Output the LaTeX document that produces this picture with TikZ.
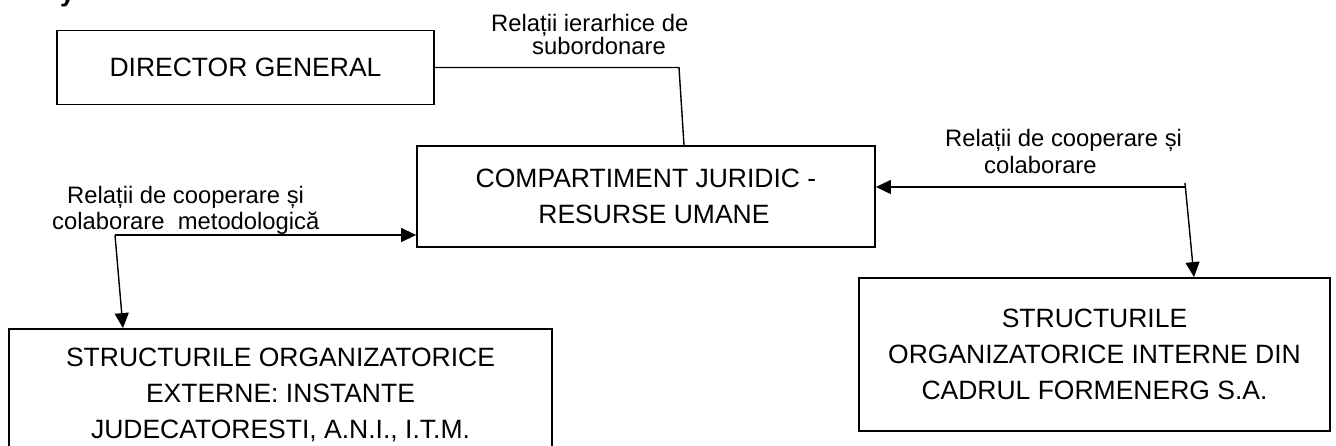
\documentclass[tikz,border=0pt]{standalone}
\usepackage{fontspec}
\setmainfont{Liberation Sans}
\usetikzlibrary{arrows.meta}
\begin{document}
\begin{tikzpicture}[x=1pt,y=-1pt,
  box/.style={draw, line width=1.8pt, rectangle, inner sep=0pt, align=center,
    font=\fontsize{26.5}{35.7}\selectfont},
  rel/.style={anchor=base west, inner sep=0pt, font=\fontsize{23.8}{27}\selectfont},
  link/.style={line width=1.4pt},
  arr/.style={link, -{Triangle[length=15pt,width=14pt]}}
]
\clip (0,0) rectangle (1336,446);

% tail of the heading line above
\node[anchor=base west, inner sep=0pt, font=\bfseries\fontsize{26.5}{30}\selectfont] (head) at (60,2) {y};

% boxes
\node[box, minimum width=377pt, minimum height=74pt] (dg) at (245.5,67.5) {DIRECTOR GENERAL};
\node[box, minimum width=458pt, minimum height=101pt] (cj) at (646,196.5)
  {COMPARTIMENT JURIDIC -\\\hspace*{16pt}RESURSE UMANE};
\node[box, minimum width=543pt, minimum height=132pt] (ext) at (280.5,395)
  {STRUCTURILE ORGANIZATORICE\\EXTERNE: INSTANTE\\JUDECATORESTI, A.N.I., I.T.M.};
\node[box, minimum width=471pt, minimum height=153pt] (int) at (1094.5,354.5)
  {STRUCTURILE\\ORGANIZATORICE INTERNE DIN\\CADRUL FORMENERG S.A.};

% subordination link
\coordinate (k1) at (679,67.5);
\coordinate (k2) at (684,0);
\draw[link] (dg.east) -- (k1) -- (cj.north -| k2);

% external cooperation
\coordinate (lj) at (115,235);
\coordinate (lx) at (123,0);
\draw[arr] (lj) -- (cj.west |- lj);
\draw[arr] (lj) -- (ext.north -| lx);

% internal cooperation
\coordinate (rj) at (1185,187);
\coordinate (rx) at (1194,0);
\draw[arr] (rj) -- (cj.east |- rj);
\draw[arr] ([yshift=4pt]rj) -- (int.north -| rx);

% relation labels
\node[rel] (t1) at (491,31.7) {Relații ierarhice de};
\node[rel] (t2) at (532,55) {subordonare};
\node[rel] (l1) at (67,204) {Relații de cooperare și};
\node[rel] (l2) at (52,230) {colaborare\ \ metodologică};
\node[rel] (r1) at (945,147) {Relații de cooperare și};
\node[rel] (r2) at (984,174) {colaborare};
\end{tikzpicture}
\end{document}
